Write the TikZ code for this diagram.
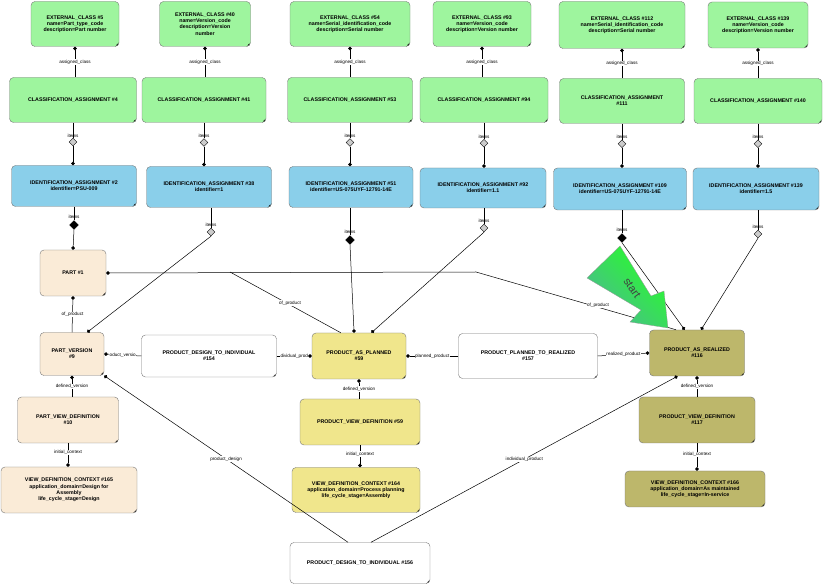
\documentclass[tikz,border=0pt]{standalone}
\usepackage{fontspec}
\setmainfont{Liberation Sans}
\usetikzlibrary{shapes.geometric,arrows.meta,positioning,calc}
\definecolor{cgreen}{HTML}{9EF59E}
\definecolor{cblue}{HTML}{8ACFEA}
\definecolor{cbeige}{HTML}{FAEBD7}
\definecolor{cyel}{HTML}{F0E68C}
\definecolor{colive}{HTML}{BDB76B}
\definecolor{cbord}{HTML}{777777}
\tikzset{
 box/.style={draw=cbord,rounded corners=4pt,align=center,inner sep=1pt,
   font=\fontsize{5.3}{6.2}\selectfont\bfseries,
   path picture={\fill[black] (path picture bounding box.south east) -- ++(-4,0) -- ++(4,-4) -- cycle;}},
 lab/.style={font=\fontsize{4.6}{5}\selectfont,inner sep=0.5pt,fill=white},
 con/.style={draw,line width=0.5pt},
 dot/.style={-{Circle[length=3.6pt]}},
 gdia/.style={diamond,draw,fill=black!20,minimum size=8pt,inner sep=0pt},
 bdia/.style={diamond,draw,fill=black,minimum size=9pt,inner sep=0pt},
}
\newcommand{\bx}[8]{\node[box,fill=#6,minimum width=#4,minimum height=#5] (#1) at (#2,#3) {#7};}
\begin{document}
\begin{tikzpicture}[x=1pt,y=-1pt]
\useasboundingbox (0,0) rectangle (823,585);
% top row
\bx{ec5}{75}{24}{88}{45}{cgreen}{EXTERNAL\_CLASS \#5\\name=Part\_type\_code\\description=Part number}{}
\bx{ec40}{205}{24}{91}{45}{cgreen}{EXTERNAL\_CLASS \#40\\name=Version\_code\\description=Version\\number}{}
\bx{ec54}{350}{24}{120}{45}{cgreen}{EXTERNAL\_CLASS \#54\\name=Serial\_identification\_code\\description=Serial number}{}
\bx{ec93}{482}{24}{98}{45}{cgreen}{EXTERNAL\_CLASS \#93\\name=Version\_code\\description=Version number}{}
\bx{ec112}{622}{25}{126}{47}{cgreen}{EXTERNAL\_CLASS \#112\\name=Serial\_identification\_code\\description=Serial number}{}
\bx{ec139}{758}{25}{100}{46}{cgreen}{EXTERNAL\_CLASS \#139\\name=Version\_code\\description=Version number}{}
% classification
\bx{ca4}{73}{100}{127}{45}{cgreen}{CLASSIFICATION\_ASSIGNMENT \#4}{}
\bx{ca41}{204}{100}{124}{45}{cgreen}{CLASSIFICATION\_ASSIGNMENT \#41}{}
\bx{ca53}{350}{100}{125}{45}{cgreen}{CLASSIFICATION\_ASSIGNMENT \#53}{}
\bx{ca94}{484}{100}{128}{45}{cgreen}{CLASSIFICATION\_ASSIGNMENT \#94}{}
\bx{ca111}{622}{101}{125}{45}{cgreen}{CLASSIFICATION\_ASSIGNMENT\\\#111}{}
\bx{ca140}{758}{101}{128}{45}{cgreen}{CLASSIFICATION\_ASSIGNMENT \#140}{}
% identification
\bx{ia2}{74}{186}{125}{41}{cblue}{IDENTIFICATION\_ASSIGNMENT \#2\\identifier=PSU-009}{}
\bx{ia38}{209}{187}{125}{41}{cblue}{IDENTIFICATION\_ASSIGNMENT \#38\\identifier=1}{}
\bx{ia51}{351}{187}{124}{41}{cblue}{IDENTIFICATION\_ASSIGNMENT \#51\\identifier=US-075UYF-12791-14E}{}
\bx{ia92}{483}{188}{126}{40}{cblue}{IDENTIFICATION\_ASSIGNMENT \#92\\identifier=1.1}{}
\bx{ia109}{620}{189}{133}{42}{cblue}{IDENTIFICATION\_ASSIGNMENT \#109\\identifier=US-075UYF-12791-14E}{}
\bx{ia139}{756}{189}{126}{42}{cblue}{IDENTIFICATION\_ASSIGNMENT \#139\\identifier=1.5}{}
% main row
\bx{part}{73}{273}{66}{46}{cbeige}{PART \#1}{}
\bx{pv}{72}{354}{64}{43}{cbeige}{PART\_VERSION\\\#9}{}
\bx{pdti154}{209}{356}{135}{42}{white}{PRODUCT\_DESIGN\_TO\_INDIVIDUAL\\\#154}{}
\bx{pap}{359}{356}{94}{46}{cyel}{PRODUCT\_AS\_PLANNED\\\#59}{}
\bx{pptr}{528}{356}{139}{45}{white}{PRODUCT\_PLANNED\_TO\_REALIZED\\\#157}{}
\bx{par}{697}{353}{95}{46}{colive}{PRODUCT\_AS\_REALIZED\\\#116}{}
\bx{pvd10}{68}{420}{101}{46}{cbeige}{PART\_VIEW\_DEFINITION\\\#10}{}
\bx{pvd59}{360}{422}{120}{46}{cyel}{PRODUCT\_VIEW\_DEFINITION \#59}{}
\bx{pvd117}{697}{420}{116}{46}{colive}{PRODUCT\_VIEW\_DEFINITION\\\#117}{}
\bx{vdc165}{69}{490}{136}{46}{cbeige}{VIEW\_DEFINITION\_CONTEXT \#165\\application\_domain=Design for\\Assembly\\life\_cycle\_stage=Design}{}
\bx{vdc164}{356}{490}{128}{45}{cyel}{VIEW\_DEFINITION\_CONTEXT \#164\\application\_domain=Process planning\\life\_cycle\_stage=Assembly}{}
\bx{vdc166}{695}{489}{140}{36}{colive}{VIEW\_DEFINITION\_CONTEXT \#166\\application\_domain=As maintained\\life\_cycle\_stage=In-service}{}
\bx{pdti156}{360}{563}{140}{41}{white}{PRODUCT\_DESIGN\_TO\_INDIVIDUAL \#156}{}
% assigned_class
\foreach \e/\c in {ec5/ca4,ec40/ca41,ec54/ca53,ec93/ca94,ec112/ca111,ec139/ca140}{
  \draw[con,{Circle[length=3.6pt]}-] (\e.south) -- (\e.south |- \c.north)
    node[lab,pos=0.5] {assigned\_class};}
% items CA -> IA
\foreach \c/\i in {ca4/ia2,ca41/ia38,ca53/ia51,ca94/ia92,ca111/ia109,ca140/ia139}{
  \node[gdia] (d\c) at ($(\c.south)!0.5!(\c.south |- \i.north)+(0,-2)$) {};
  \draw[con] (\c.south) -- (d\c.north);
  \node[lab,fill=none,above=0pt of d\c] {items};
  \draw[con,dot] (d\c.south) -- (\c.south |- \i.north);}
% items IA -> products
\node[bdia] (d2) at (74,225) {};
\node[gdia] (d38) at (211,232) {};
\node[bdia] (d51) at (350,240) {};
\node[gdia] (d92) at (484,228) {};
\node[bdia] (d109) at (622,238) {};
\node[gdia] (d139) at (758,234) {};
\foreach \i/\d in {ia2/d2,ia38/d38,ia51/d51,ia92/d92,ia109/d109,ia139/d139}{
  \draw[con] (\i.south -| \d) -- (\d.north);
  \node[lab,fill=none,above=1pt of \d] {items};}
\draw[con,dot] (d2.south) -- (part.north);
\draw[con,dot] (d38.south) -- (pv.55);
\draw[con,dot] (d51.south) -- (pap.102);
\draw[con,dot] (d92.south) -- (pap.62);
\draw[con,dot] (d109.south) -- (par.118);
\draw[con,dot] (d139.south) -- (par.80);
% PART of_product tree
\coordinate (j1) at (230,272);
\coordinate (j2) at (476,272);
\draw[con,{Circle[length=3.6pt]}-] (part.east) -- (j2) -- (par.132);
\draw[con] (j1) -- (pap.128);
\node[lab] at (290,303) {of\_product};
\node[lab] at (598,305) {of\_product};
\draw[con,{Circle[length=3.6pt]}-] (part.south) -- (pv.north) node[lab,midway] {of\_product};
% row connectors
\draw[con,dot] (pdti154.west) -- (pv.east) node[lab,midway] {oduct\_versio};
\draw[con,dot] (pdti154.east) -- (pap.west) node[lab,midway] {dividual\_prod};
\draw[con,dot] (pptr.west) -- (pap.east) node[lab,midway] {planned\_product};
\draw[con,dot] (pptr.east) -- (par.west) node[lab,midway] {realized\_product};
% defined_version
\draw[con,{Circle[length=3.6pt]}-] (pv.south) -- (pv.south |- pvd10.north) node[lab,midway] {defined\_version};
\draw[con,{Circle[length=3.6pt]}-] (pap.south) -- (pap.south |- pvd59.north) node[lab,midway] {defined\_version};
\draw[con,{Circle[length=3.6pt]}-] (par.south) -- (par.south |- pvd117.north) node[lab,midway] {defined\_version};
% initial_context
\draw[con,dot] (pvd10.south) -- (pvd10.south |- vdc165.north) node[lab,pos=0.4] {initial\_context};
\draw[con,dot] (pvd59.south) -- (pvd59.south |- vdc164.north) node[lab,pos=0.4] {initial\_context};
\draw[con,dot] (pvd117.south) -- (pvd117.south |- vdc166.north) node[lab,pos=0.4] {initial\_context};
% PDTI156
\draw[con,dot] (pdti156.120) -- (pv.south east) node[lab,pos=0.5] {product\_design};
\draw[con,dot] (pdti156.62) -- (par.230) node[lab,pos=0.5] {individual\_product};
% start arrow
\shade[left color=teal!80!green!70, right color=green!85!white, shading angle=135, draw=black!40, line width=0.3pt]
  (587,278) -- (620,246) -- (651,296) -- (664,291) -- (668,328) -- (630,322) -- (641,310) -- cycle;
\node[rotate=-55,font=\fontsize{11}{12}\selectfont,text=black!75,inner sep=0pt] at (632,288) {start};
\end{tikzpicture}
\end{document}
